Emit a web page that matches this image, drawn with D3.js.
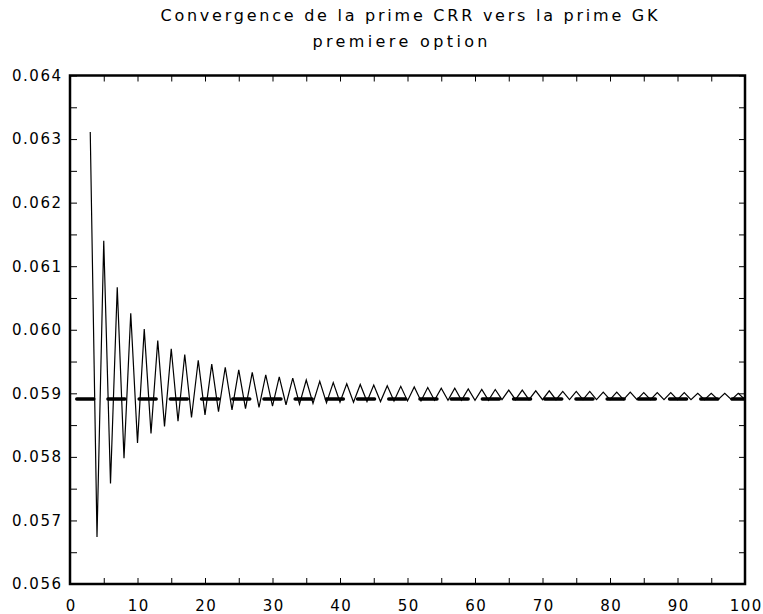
<!DOCTYPE html>
<html><head><meta charset="utf-8">
<script src="https://cdn.jsdelivr.net/npm/d3@7"></script>
<style>
html,body{margin:0;padding:0;background:#fff;}
svg{display:block;}
text{font-family:"DejaVu Sans","Liberation Sans",sans-serif;fill:#000;}
</style></head>
<body>
<svg id="chart" width="763" height="614"></svg>
<script>
const titleLines = ["Convergence de la prime CRR vers la prime GK", "premiere option"];
const firstStep = 3, lastStep = 100;
const steps = d3.range(firstStep, lastStep + 1);
const crrPrice = [
  0.06311, 0.05674, 0.06140, 0.05758, 0.06067, 0.05798, 0.06026, 0.05822,
  0.06001, 0.05837, 0.05983, 0.05848, 0.05970, 0.05856, 0.05961, 0.05862,
  0.05952, 0.05866, 0.05946, 0.05871, 0.05941, 0.05874, 0.05937, 0.05876,
  0.05933, 0.05878, 0.05929, 0.05880, 0.05926, 0.05882, 0.05924, 0.05883,
  0.05921, 0.05884, 0.05919, 0.05885, 0.05917, 0.05886, 0.05915, 0.05886,
  0.05914, 0.05887, 0.05913, 0.05887, 0.05912, 0.05888, 0.05911, 0.05888,
  0.05910, 0.05888, 0.05909, 0.05889, 0.05908, 0.05889, 0.05908, 0.05889,
  0.05907, 0.05889, 0.05906, 0.05889, 0.05906, 0.05890, 0.05905, 0.05890,
  0.05905, 0.05890, 0.05904, 0.05890, 0.05904, 0.05890, 0.05903, 0.05890,
  0.05903, 0.05890, 0.05903, 0.05890, 0.05902, 0.05890, 0.05902, 0.05890,
  0.05902, 0.05890, 0.05901, 0.05890, 0.05901, 0.05890, 0.05901, 0.05890,
  0.05901, 0.05890, 0.05900, 0.05890, 0.05900, 0.05890, 0.05900, 0.05890,
  0.05900, 0.05890
];
const gkPrice = 0.05891;
const gkSpan = [0, 100];
const xDomain = [0, 100];
const yDomain = [0.056, 0.064];
const xTickValues = d3.range(0, 101, 5);
const xLabelValues = [0, 10, 20, 30, 40, 50, 60, 70, 80, 90, 100];
const yTickValues = d3.range(0, 17).map(i => 0.056 + i * 0.0005);
const yLabelValues = [0.056, 0.057, 0.058, 0.059, 0.060, 0.061, 0.062, 0.063, 0.064];

const svg = d3.select("#chart");
const L = 70, R = 745, T = 75.5, B = 584;
const x = d3.scaleLinear().domain(xDomain).range([L, R]);
const y = d3.scaleLinear().domain(yDomain).range([B, T]);

// titles
svg.append("text").attr("x", 409).attr("y", 21).attr("text-anchor", "middle")
  .attr("font-size", 16).attr("textLength", 497).attr("lengthAdjust", "spacing")
  .text(titleLines[0]);
svg.append("text").attr("x", 400).attr("y", 47).attr("text-anchor", "middle")
  .attr("font-size", 16).attr("textLength", 175).attr("lengthAdjust", "spacing")
  .text(titleLines[1]);

svg.append("clipPath").attr("id", "plotclip").append("rect")
  .attr("x", L).attr("y", T).attr("width", R - L).attr("height", B - T);

const plot = svg.append("g").attr("clip-path", "url(#plotclip)");

// GK reference dashed line
plot.append("path")
  .datum(gkSpan)
  .attr("d", d3.line().x(d => x(d)).y(() => y(gkPrice)))
  .attr("fill", "none").attr("stroke", "#000").attr("stroke-width", 3.5)
  .attr("stroke-linecap", "round")
  .attr("stroke-dasharray", "17,14.2").attr("stroke-dashoffset", 24.45);

// CRR line
plot.append("path")
  .datum(crrPrice)
  .attr("d", d3.line().x((d, i) => x(steps[i])).y(d => y(d)))
  .attr("fill", "none").attr("stroke", "#000").attr("stroke-width", 1.2)
  .attr("stroke-linejoin", "miter");

// axes (ticks inward)
const fmtX = d => xLabelValues.includes(d) ? String(d) : "";
const fmtY = d => yLabelValues.some(v => Math.abs(v - d) < 1e-9) ? d.toFixed(3) : "";

const gx = svg.append("g").attr("transform", `translate(0,${B})`)
  .call(d3.axisBottom(x).tickValues(xTickValues).tickSizeInner(-6).tickSizeOuter(0).tickPadding(16).tickFormat(fmtX));
const gy = svg.append("g").attr("transform", `translate(${L},0)`)
  .call(d3.axisLeft(y).tickValues(yTickValues).tickSizeInner(-7).tickSizeOuter(0).tickPadding(9).tickFormat(fmtY));
const gt = svg.append("g").attr("transform", `translate(0,${T})`)
  .call(d3.axisTop(x).tickValues(xTickValues).tickSizeInner(-6).tickSizeOuter(0).tickFormat(""));
const gr = svg.append("g").attr("transform", `translate(${R},0)`)
  .call(d3.axisRight(y).tickValues(yTickValues).tickSizeInner(-6).tickSizeOuter(0).tickFormat(""));

[gx, gy, gt, gr].forEach(g => {
  g.select(".domain").remove();
  g.selectAll(".tick line").attr("stroke", "#000").attr("stroke-width", 1);
  g.selectAll(".tick text").attr("font-family", "DejaVu Sans, Liberation Sans, sans-serif")
    .attr("font-size", 15).attr("fill", "#000").attr("letter-spacing", "1.5px");
});
gy.selectAll(".tick text").attr("dx", "1.5px");
gx.selectAll(".tick text").attr("dx", "0.75px");

// frame
svg.append("rect").attr("x", L).attr("y", T).attr("width", R - L).attr("height", B - T)
  .attr("fill", "none").attr("stroke", "#000").attr("stroke-width", 2.5);
</script>
</body></html>
